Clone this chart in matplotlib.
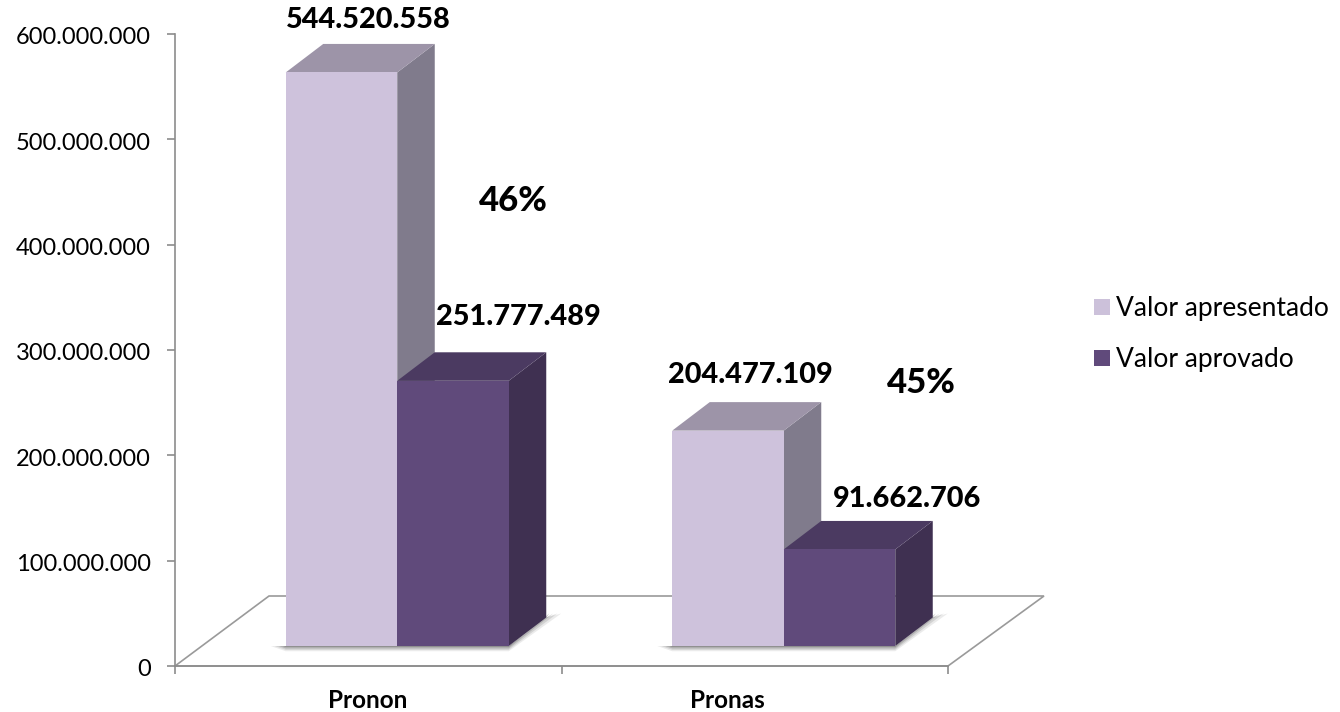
import matplotlib
matplotlib.use("Agg")
import matplotlib.pyplot as plt
from matplotlib.patches import Polygon, Rectangle
from matplotlib.transforms import Affine2D, ScaledTranslation

plt.rcParams['font.family'] = ['Lato', 'DejaVu Sans']

categories = ['Pronon', 'Pronas']
series_names = ['Valor apresentado', 'Valor aprovado']
apresentado = [544520558, 204477109]
aprovado = [251777489, 91662706]
value_labels_a = ['544.520.558', '204.477.109']
value_labels_b = ['251.777.489', '91.662.706']
percent_labels = ['46%', '45%']
yticks = [0, 100000000, 200000000, 300000000, 400000000, 500000000, 600000000]
ytick_labels = ['0', '100.000.000', '200.000.000', '300.000.000', '400.000.000', '500.000.000', '600.000.000']

W, H = 1340, 712
fig = plt.figure(figsize=(W / 100, H / 100), dpi=100, facecolor='white')
L, R, T, B = 175, 948, 34, 666
ax = fig.add_axes([L / W, 1 - B / H, (R - L) / W, (B - T) / H])
ax.set_xlim(0, 2)
ax.set_ylim(0, 600000000)
ax.patch.set_visible(False)
for s in ['top', 'right']:
    ax.spines[s].set_visible(False)
for s in ['left', 'bottom']:
    ax.spines[s].set_color('#8c8c8c')
    ax.spines[s].set_linewidth(1.2)

px_x = 2 / (R - L)
px_y = 600000000 / (B - T)

# floor
fl = [(0, 0), (94 * px_x, 70 * px_y), ((1044 - L) * px_x, 70 * px_y), (2, 0)]
ax.add_patch(Polygon(fl, closed=True, fc='white', ec='#9a9a9a', lw=1.2, zorder=1, clip_on=False))

# bars stand on the floor, shifted in display pixels
lift = ax.transData + Affine2D().translate(29, 20)
bar_w = 111.5 * px_x
dx, dy = 37.5 * px_x, 28.5 * px_y
centres = [0.5, 1.5]
styles = [('#cec2dc', '#9d94a8', '#807b8c'), ('#604a7b', '#4b3a61', '#3f3051')]

for k, vals in enumerate([apresentado, aprovado]):
    front, top, side = styles[k]
    for c, v in zip(centres, vals):
        x0 = c + (k - 1) * bar_w
        x1 = x0 + bar_w
        if k == 1:
            # soft shadow on the floor
            left = x0 - bar_w
            for g, a in [(15, 0.12), (11, 0.18), (7, 0.28), (3, 0.40)]:
                ax.add_patch(Polygon([(left - g * px_x, 0), (left, -g * 0.35 * px_y), (x1, -g * 0.35 * px_y),
                                      (x1 + dx + g * px_x, dy + 4 * px_y), (x1 + dx, dy), (x1, 0)],
                                     closed=True, fc='#606060', ec='none', alpha=a,
                                     transform=lift, zorder=2))
        ax.bar(x0, v, width=bar_w, align='edge', color=front, transform=lift, zorder=4 + k)
        ax.add_patch(Polygon([(x1, 0), (x1 + dx, dy), (x1 + dx, v + dy), (x1, v)], closed=True,
                             fc=side, ec='none', transform=lift, zorder=3 + k))
        ax.add_patch(Polygon([(x0, v), (x0 + dx, v + dy), (x1 + dx, v + dy), (x1, v)], closed=True,
                             fc=top, ec='none', transform=lift, zorder=3 + k))

ax.set_xticks([0, 1, 2])
ax.set_xticklabels([])
ax.set_yticks(yticks)
ax.set_yticklabels(ytick_labels)
ax.tick_params(axis='y', length=6, color='#8c8c8c', width=1.2, labelsize=17, labelcolor='black', pad=11.5)
ax.tick_params(axis='x', length=6, color='#8c8c8c', width=1.2)
for lab in ax.get_yticklabels():
    lab.set_transform(lab.get_transform() + ScaledTranslation(0, -2 / 100, fig.dpi_scale_trans))


def pixtext(x, y, s, **kw):
    fig.text(x / W, 1 - y / H, s, ha='center', va='center', **kw)


for name, x in zip(categories, [368, 727]):
    pixtext(x, 701, name, fontsize=17.5, fontweight='bold')
for s, x, y in zip(value_labels_a, [368, 750], [20, 375]):
    pixtext(x, y, s, fontsize=20.8, fontweight='black')
for s, x, y in zip(value_labels_b, [518, 907], [317, 499]):
    pixtext(x, y, s, fontsize=20.8, fontweight='black')
for s, x, y in zip(percent_labels, [513, 921], [201, 383]):
    pixtext(x, y, s, fontsize=25, fontweight='black')

# legend
for name, col, y in zip(series_names, ['#ccc1da', '#604a7b'], [307, 358]):
    fig.add_artist(Rectangle((1094 / W, 1 - (y + 8) / H), 16 / W, 16 / H, fc=col, ec='none',
                             transform=fig.transFigure))
    fig.text(1116 / W, 1 - (y + 1) / H, name, ha='left', va='center', fontsize=19)

fig.savefig('out.png', dpi=100)
